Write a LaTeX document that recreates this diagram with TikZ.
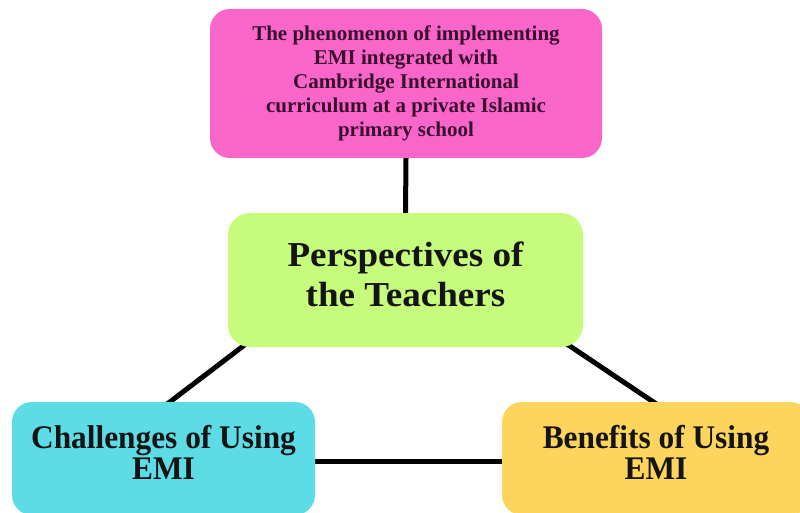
\documentclass[tikz,border=0pt]{standalone}
\usepackage{fontspec}
\setmainfont{Liberation Serif}
\newfontfamily\greenfont[FakeStretch=1.06]{Liberation Serif}
\newfontfamily\bottomfont[FakeStretch=0.95]{Liberation Serif}
\usetikzlibrary{calc,backgrounds}
\definecolor{pinkbox}{HTML}{F966C9}
\definecolor{greenbox}{HTML}{C6FB7C}
\definecolor{cyanbox}{HTML}{5DDCE5}
\definecolor{yellowbox}{HTML}{FDD45C}
\definecolor{pinktext}{HTML}{3A0E2F}
\definecolor{darktext}{HTML}{141414}
\newcommand{\deepline}{\rule[-12pt]{0pt}{12pt}}
\tikzset{
  box/.style={rectangle, rounded corners=20pt, inner sep=0pt, align=center},
  link/.style={line width=5pt, black},
}
\begin{document}
\begin{tikzpicture}[x=1pt,y=-1pt]
\useasboundingbox (0,0) rectangle (800,513);
\clip (0,0) rectangle (800,513);
\node[box, fill=pinkbox, text=pinktext, minimum width=392pt, minimum height=149pt,
  font=\fontsize{21}{24}\selectfont\bfseries] (pink) at (406,83.5)
  {The phenomenon of implementing\\EMI integrated with\\Cambridge International\\curriculum at a private Islamic\\primary school};
\node[box, fill=greenbox, text=darktext, minimum width=355pt, minimum height=134pt, rounded corners=22pt,
  font=\greenfont\fontsize{35}{40}\selectfont\bfseries] (green) at (405.5,280)
  {Perspectives of\\the Teachers\deepline};
\node[box, fill=cyanbox, text=darktext, minimum width=303pt, minimum height=113pt,
  font=\bottomfont\fontsize{33}{31}\selectfont\bfseries] (cyan) at (163.5,458.5)
  {Challenges of Using\\EMI\deepline};
\node[box, fill=yellowbox, text=darktext, minimum width=308pt, minimum height=113pt,
  font=\bottomfont\fontsize{33}{31}\selectfont\bfseries] (yellow) at (656,458.5)
  {Benefits of Using\\EMI\deepline};
\begin{scope}[on background layer]
\fill[white] (0,0) rectangle (800,513);
\draw[link] (pink.south) -- (green.north);
\draw[link] ($(green.south west)+(27,-10)$) -- ($(cyan.north west)+(153,4)$);
\draw[link] ($(green.south east)+(-28,-11)$) -- ($(yellow.north west)+(158,4.5)$);
\draw[link] ($(cyan.north east)+(-5,60)$) -- ($(yellow.north west)+(5,60)$);
\end{scope}
\end{tikzpicture}
\end{document}
